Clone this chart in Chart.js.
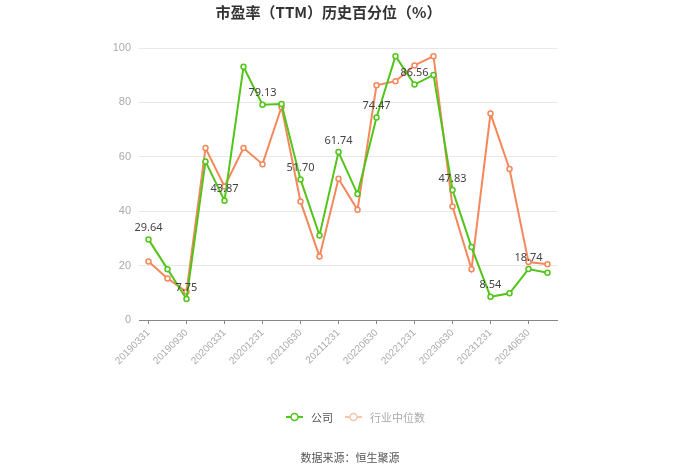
<!DOCTYPE html>
<html>
<head>
<meta charset="utf-8">
<script src="https://cdn.jsdelivr.net/npm/chart.js@4.4.1/dist/chart.umd.min.js"></script>
<style>
  body { margin: 0; background: #fff; font-family: "Noto Sans CJK SC", "Noto Sans", sans-serif; }
  #wrap { position: relative; width: 700px; height: 474px; }
  #c { position: absolute; left: 0; top: 0; }
  .legend { position: absolute; top: 409px; left: 286px; font-size: 11px; display: flex; align-items: center; }
  .legend .item { display: flex; align-items: center; margin-right: 12px; }
  .legend svg { margin-right: 8px; }
  .source { position: absolute; top: 449px; left: 0; width: 700px; text-align: center; font-size: 11px; color: #555; }
</style>
</head>
<body>
<div id="wrap">
  <canvas id="c" width="700" height="474"></canvas>
  <div class="legend">
    <div class="item"><svg width="17" height="10"><line x1="0" y1="5" x2="17" y2="5" stroke="#52c41a" stroke-width="2"/><circle cx="8.5" cy="5" r="3.5" fill="#fff" stroke="#52c41a" stroke-width="1.5"/></svg><span style="color:#555">公司</span></div>
    <div class="item"><svg width="17" height="10"><line x1="0" y1="5" x2="17" y2="5" stroke="#f8c4ad" stroke-width="2"/><circle cx="8.5" cy="5" r="3.5" fill="#fff" stroke="#f8c4ad" stroke-width="1.5"/></svg><span style="color:#aaa">行业中位数</span></div>
  </div>
  <div class="source">数据来源：恒生聚源</div>
</div>
<script>
var dates = ["20190331", "20190630", "20190930", "20191231", "20200331", "20200630",
    "20201231", "20210331", "20210630", "20210930", "20211231", "20220331",
    "20220630", "20220930", "20221231", "20230331", "20230630", "20230930",
    "20231231", "20240331", "20240630", "20240930"];
var company = [29.64, 18.7, 7.75, 58.3, 43.87, 93.1, 79.13, 79.4, 51.70, 31.1, 61.74, 46.3,
    74.47, 97.0, 86.56, 90.1, 47.83, 26.8, 8.54, 9.8, 18.74, 17.4];
var industry = [21.5, 15.3, 10.4, 63.2, 49.1, 63.2, 57.3, 78.3, 43.6, 23.3, 51.9, 40.5,
    86.3, 87.8, 93.6, 97.0, 41.7, 18.7, 75.9, 55.5, 21.3, 20.5];
var yTicks = [0, 20, 40, 60, 80, 100];

// labels above every other company point
var pointLabels = {
    id: "pointLabels",
    afterDatasetsDraw: function (chart) {
        var ctx = chart.ctx;
        var meta = chart.getDatasetMeta(0);
        ctx.save();
        ctx.font = "11px 'Noto Sans', sans-serif";
        ctx.fillStyle = "#444";
        ctx.textAlign = "center";
        ctx.textBaseline = "bottom";
        meta.data.forEach(function (pt, i) {
            if (i % 2 !== 0) return;
            ctx.fillText(company[i].toFixed(2), pt.x, pt.y - 6);
        });
        ctx.restore();
    }
};

var ctx = document.getElementById("c").getContext("2d");
new Chart(ctx, {
    type: "line",
    data: {
        labels: dates,
        datasets: [{
            label: "公司",
            data: company,
            borderColor: "#52c41a",
            backgroundColor: "#fff",
            borderWidth: 2,
            pointRadius: 2.5,
            pointBorderWidth: 1.5,
            tension: 0
        }, {
            label: "行业中位数",
            data: industry,
            borderColor: "#f5875c",
            backgroundColor: "#fff",
            borderWidth: 2,
            pointRadius: 2.5,
            pointBorderWidth: 1.5,
            tension: 0
        }]
    },
    options: {
        responsive: false,
        animation: false,
        layout: { padding: { left: 100, right: 143, top: 0, bottom: 94 } },
        plugins: {
            legend: { display: false },
            tooltip: { enabled: false },
            title: {
                display: true,
                text: "市盈率（TTM）历史百分位（%）",
                color: "#333",
                font: { size: 15, weight: "bold", family: "'Noto Sans CJK SC', sans-serif" },
                padding: { top: 3, bottom: 27 }
            }
        },
        scales: {
            x: {
                offset: true,
                grid: { drawOnChartArea: false, drawTicks: true, tickLength: 4, color: "#888", offset: false },
                border: { color: "#888" },
                ticks: {
                    autoSkip: true,
                    maxTicksLimit: 11,
                    minRotation: 45,
                    maxRotation: 45,
                    color: "#aaa",
                    font: { size: 10 }
                },
                afterFit: function (s) { s.height = 60; }
            },
            y: {
                min: 0,
                max: 100,
                afterBuildTicks: function (s) { s.ticks = yTicks.map(function (v) { return { value: v }; }); },
                grid: { color: "#e8e8e8", drawTicks: false },
                border: { display: false },
                ticks: { color: "#aaa", font: { size: 11 }, padding: 8 },
                afterFit: function (s) { s.width = 39; }
            }
        }
    },
    plugins: [pointLabels]
});
</script>
</body>
</html>
